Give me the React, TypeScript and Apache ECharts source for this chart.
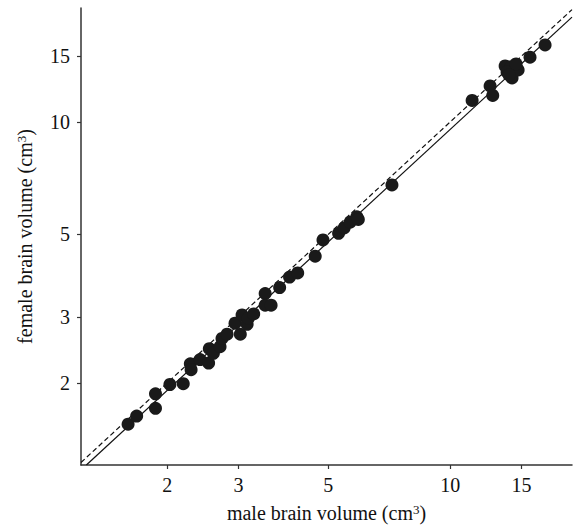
import React, { useEffect, useRef } from "react";
import * as echarts from "echarts";

// Species brain volumes (cm^3)
const maleVolume = [
  1.60, 1.68, 1.87, 1.87, 2.03, 2.19, 2.28, 2.29, 2.41, 2.53, 2.54, 2.60, 2.70, 2.73,
  2.81, 2.94, 3.03, 3.06, 3.15, 3.17, 3.27, 3.49, 3.49, 3.61, 3.79, 4.01, 4.20, 4.64,
  4.85, 5.30, 5.47, 5.66, 5.88, 5.93, 7.18, 11.33, 12.55, 12.74, 13.67, 14.14, 13.82,
  14.22, 14.72, 14.55, 13.98, 15.75, 17.16,
];
const femaleVolume = [
  1.55, 1.63, 1.87, 1.71, 1.98, 1.99, 2.25, 2.17, 2.31, 2.26, 2.47, 2.40, 2.50, 2.63,
  2.70, 2.89, 2.70, 3.04, 2.87, 2.98, 3.06, 3.47, 3.23, 3.23, 3.60, 3.84, 3.94, 4.37,
  4.83, 5.03, 5.20, 5.39, 5.57, 5.48, 6.78, 11.42, 12.49, 11.78, 14.13, 14.05, 13.62,
  13.12, 13.79, 14.31, 13.37, 14.91, 16.08,
];

// Tick labels
const xTicks = [2, 3, 5, 10, 15];
const yTicks = [2, 3, 5, 10, 15];

// Axis ranges
const xRange = [1.224, 20];
const yRange = [1.205, 20.2];

// Isometry (dashed) and fitted (solid) lines, end points
const isometryX = [1.224, 20];
const isometryY = [1.224, 20];
const fitX = [1.262, 20];
const fitY = [1.205, 19.1];

const FONT = "'Liberation Serif', 'DejaVu Serif', serif";

export default function App() {
  const ref = useRef<HTMLDivElement>(null);
  useEffect(() => {
    if (!ref.current) return;
    const chart = echarts.init(ref.current, undefined, { renderer: "svg" });
    const nameStyle = {
      fontFamily: FONT,
      fontSize: 20,
      color: "#111",
      rich: {
        t: { fontFamily: FONT, fontSize: 20, color: "#111", verticalAlign: "bottom" },
        sup: { fontFamily: FONT, fontSize: 13, color: "#111", verticalAlign: "top" },
      },
    };
    const axisCommon = {
      type: "log" as const,
      logBase: 10,
      nameLocation: "middle" as const,
      nameTextStyle: nameStyle,
      axisLine: { show: true, lineStyle: { color: "#333", width: 1.5 } },
      splitLine: { show: false },
      minorTick: { show: false },
    };
    chart.setOption({
      animation: false,
      backgroundColor: "#fff",
      grid: { left: 81, right: 3, top: 8, bottom: 65, containLabel: false },
      xAxis: {
        ...axisCommon,
        min: xRange[0],
        max: xRange[1],
        name: "{t|male brain volume (cm}{sup|3}{t|)}",
        nameGap: 38,
        axisTick: { show: true, length: 4, customValues: xTicks, lineStyle: { color: "#333", width: 1.2 } },
        axisLabel: {
          customValues: xTicks,
          fontFamily: FONT,
          fontSize: 20,
          color: "#111",
          margin: 10,
          formatter: (v: number) => String(Math.round(v)),
        },
      },
      yAxis: {
        ...axisCommon,
        min: yRange[0],
        max: yRange[1],
        name: "{t|female brain volume (cm}{sup|3}{t|)}",
        nameGap: 46,
        axisTick: { show: true, length: 4, customValues: yTicks, lineStyle: { color: "#333", width: 1.2 } },
        axisLabel: {
          customValues: yTicks,
          fontFamily: FONT,
          fontSize: 20,
          color: "#111",
          margin: 11,
          formatter: (v: number) => String(Math.round(v)),
        },
      },
      series: [
        {
          type: "line",
          data: isometryX.map((x, i) => [x, isometryY[i]]),
          showSymbol: false,
          symbol: "none",
          lineStyle: { color: "#111", width: 1.2, type: [5, 3] },
          z: 1,
        },
        {
          type: "line",
          data: fitX.map((x, i) => [x, fitY[i]]),
          showSymbol: false,
          symbol: "none",
          lineStyle: { color: "#111", width: 1.2, type: "solid" },
          z: 1,
        },
        {
          type: "scatter",
          data: maleVolume.map((x, i) => [x, femaleVolume[i]]),
          symbol: "circle",
          symbolSize: 13,
          itemStyle: { color: "#1a1a1a", opacity: 1 },
          z: 2,
        },
      ],
    });
    return () => chart.dispose();
  }, []);
  return (
    <div
      ref={ref}
      style={{ position: "fixed", left: 0, top: 0, width: 575, height: 530, background: "#fff" }}
    />
  );
}
